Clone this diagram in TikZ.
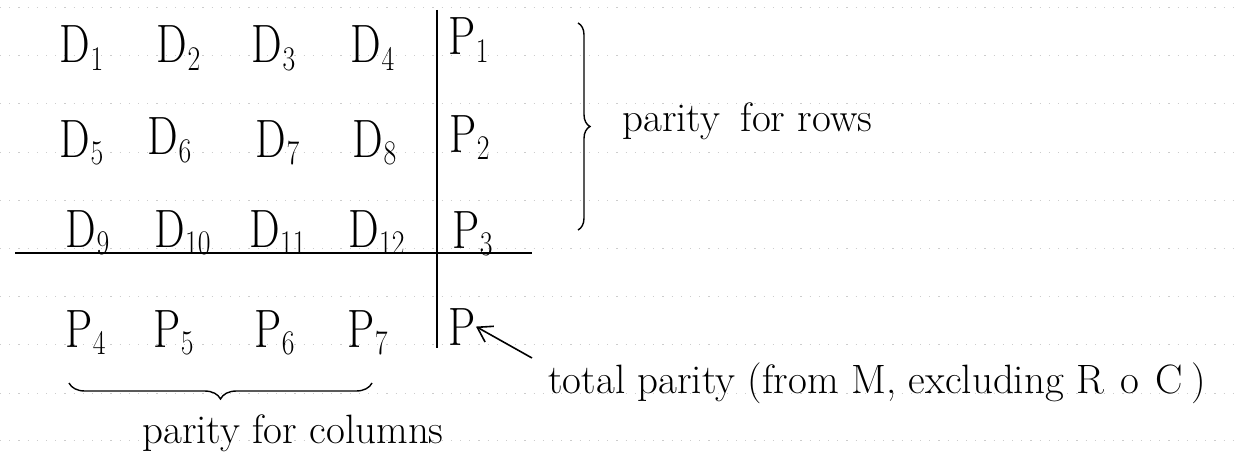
\documentclass[tikz,border=0pt]{standalone}
\usepackage{graphicx}
\usetikzlibrary{decorations.pathreplacing,arrows.meta}
\newcommand{\hsym}[2]{\scalebox{0.8}[1]{#1$_{#2}$}}
\begin{document}
\begin{tikzpicture}[x=0.5pt,y=-0.5pt,
  sym/.style={anchor=base,inner sep=0pt,font=\fontsize{27}{29}\selectfont},
  lbl/.style={anchor=base west,inner sep=0pt,font=\fontsize{20.5}{23}\selectfont},
  rule/.style={line width=0.7pt},
  ruled/.style={black!20,line width=0.5pt,dash pattern=on 0.6pt off 4pt},
  bracestyle/.style={line width=0.7pt,decorate},
  pointer/.style={line width=0.8pt,-{Straight Barb[length=7pt,width=9pt]}}]
\useasboundingbox (0,0) rectangle (1241,476);
\fill[white] (0,0) rectangle (1241,476);
% ruled paper lines
\foreach \yy in {8,56,104,152,200,248,296,344,393,440}
  \draw[ruled] (0,\yy) -- (1241,\yy);
% row 1
\node[sym] (d1) at (82,63) {\hsym{D}{1}};
\node[sym] (d2) at (179,63) {\hsym{D}{2}};
\node[sym] (d3) at (274,63) {\hsym{D}{3}};
\node[sym] (d4) at (373,63) {\hsym{D}{4}};
\node[sym] (p1) at (469,55) {\hsym{P}{1}};
% row 2
\node[sym] (d5) at (82,157) {\hsym{D}{5}};
\node[sym] (d6) at (170,155) {\hsym{D}{6}};
\node[sym] (d7) at (278,157) {\hsym{D}{7}};
\node[sym] (d8) at (375,157) {\hsym{D}{8}};
\node[sym] (p2) at (470,152) {\hsym{P}{2}};
% row 3
\node[sym] (d9) at (88,247) {\hsym{D}{9}};
\node[sym] (d10) at (183,247) {\hsym{D}{10}};
\node[sym] (d11) at (278,247) {\hsym{D}{11}};
\node[sym] (d12) at (377,247) {\hsym{D}{12}};
\node[sym] (p3) at (473,248) {\hsym{P}{3}};
% row 4
\node[sym] (p4) at (86,347) {\hsym{P}{4}};
\node[sym] (p5) at (174,347) {\hsym{P}{5}};
\node[sym] (p6) at (275,347) {\hsym{P}{6}};
\node[sym] (p7) at (368,347) {\hsym{P}{7}};
\node[sym] (p) at (462,345) {\scalebox{0.8}[1]{P}};
% rules of the table
\coordinate (vtop) at (437,10);
\coordinate (vbot) at (437,348);
\coordinate (hl) at (15,253);
\coordinate (hr) at (532,253);
\draw[rule] (vtop) -- (vbot);
\draw[rule] (hl) -- (hr);
% labels
\node[lbl] (rows) at (622,132) {parity\hspace{0.5em}for rows};
\node[lbl] (cols) at (142,443) {parity for columns};
\node[lbl] (total) at (548,393) {total parity (from M, excluding R\hspace{0.4em}o\hspace{0.4em}C\hspace{0.2em})};
% braces
\coordinate (rb1) at (578,23);
\coordinate (rb2) at (578,230);
\draw[bracestyle,decoration={brace,amplitude=6pt}] (rb1) -- (rb2);
\coordinate (cb1) at (372,383);
\coordinate (cb2) at (69,383);
\draw[bracestyle,decoration={brace,amplitude=8pt}] (cb1) -- (cb2);
% arrow
\coordinate (astart) at (532,358);
\draw[pointer] (astart) -- (p.east);
\end{tikzpicture}
\end{document}
